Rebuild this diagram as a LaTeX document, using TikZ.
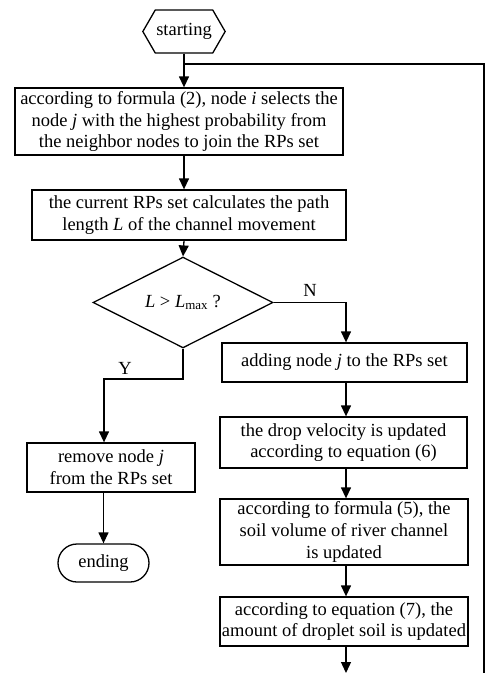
\documentclass[tikz,border=0pt]{standalone}
\usepackage{fontspec}
\setmainfont{Liberation Serif}
\usetikzlibrary{arrows.meta,shapes.geometric,shapes.misc,shapes.symbols}
\begin{document}
\begin{tikzpicture}
      [x=1pt,y=-1pt,line width=1.3pt,font=\fontsize{18.5}{21.7}\selectfont,
      flow/.style={-{Triangle[width=10pt,length=11pt]}},
      proc node/.style={rectangle,draw,align=center,inner sep=1pt},
      start node/.style={signal,signal to=west and east,signal pointer angle=120,
        draw,inner sep=1pt,minimum width=74pt,minimum height=43pt},
      end node/.style={rounded rectangle,draw,inner sep=1pt,minimum width=93pt,minimum height=38pt},
      test node/.style={diamond,draw,inner sep=0pt,minimum width=180pt,minimum height=47pt}]
      \useasboundingbox (0,0) rectangle (490,673);
      \node[start node] (n0) at (184,31.5) {starting};
      \node[proc node,minimum width=328pt,minimum height=67pt] (n1) at (179,121.5)
        {according to formula (2), node \textit{i} selects the\\node \textit{j} with the highest probability from\\the neighbor nodes to join the RPs set};
      \node[proc node,minimum width=314pt,minimum height=50pt] (n2) at (189,215)
        {the current RPs set calculates the path\\length \textit{L} of the channel movement};
      \node[test node] (n3) at (183,302.5) {\textit{L} > \textit{L}\textsubscript{max} ?};
      \node[proc node,minimum width=245pt,minimum height=39pt] (n4) at (344.5,362.5)
        {adding node \textit{j} to the RPs set};
      \node[proc node,minimum width=168pt,minimum height=49pt] (n5) at (111,467.5)
        {remove node \textit{j}\\from the RPs set};
      \node[proc node,minimum width=247pt,minimum height=51pt] (n6) at (343.5,442.5)
        {the drop velocity is updated\\according to equation (6)};
      \node[proc node,minimum width=248pt,minimum height=66pt] (n7) at (344,532)
        {according to formula (5), the\\soil volume of river channel\\is updated};
      \node[proc node,minimum width=248pt,minimum height=49pt] (n8) at (344,621.5)
        {according to equation (7), the\\amount of droplet soil is updated};
      \node[end node] (n9) at (103.5,563) {ending};
      \coordinate (c0) at (184,64);
      \coordinate (c1) at (484,673);
      \coordinate (c2) at (104,379);
      \coordinate (c3) at (346,673);
      % main line
      \draw[flow] (n0.south) -- (n0.south |- n1.north);
      \draw[flow] (n0.south |- n1.south) -- (n0.south |- n2.north);
      \draw[flow] (n0.south |- n2.south) -- (n3.north);
      % yes branch
      \draw[flow] (n3.south) |- (c2) -- (c2 |- n5.north);
      \node at (125,368) {Y};
      \draw[flow] (n9.north |- n5.south) -- (n9.north);
      % no branch
      \draw[flow] (n3.east) -| (c3 |- n4.north);
      \node at (310,290) {N};
      \draw[flow] (c3 |- n4.south) -- (c3 |- n6.north);
      \draw[flow] (c3 |- n6.south) -- (c3 |- n7.north);
      \draw[flow] (c3 |- n7.south) -- (c3 |- n8.north);
      \draw[flow] (c3 |- n8.south) -- (c3);
      % loop back
      \draw (c1) |- (c0);
    \end{tikzpicture}
\end{document}
